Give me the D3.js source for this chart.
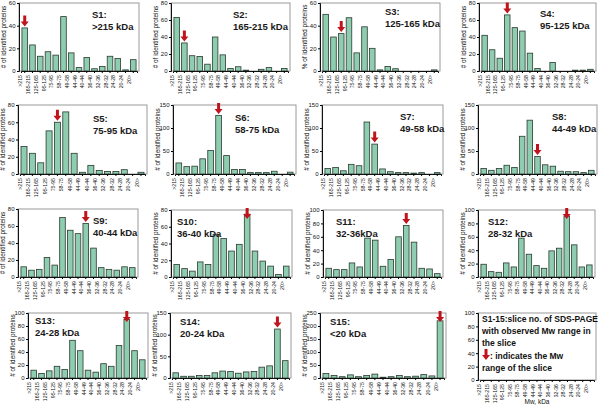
<!DOCTYPE html>
<html><head><meta charset="utf-8">
<script src="https://cdn.jsdelivr.net/npm/d3@7"></script>
<style>body{margin:0;background:#fff;} svg{display:block;font-family:"Liberation Sans",Arial,sans-serif;}</style>
</head><body>
<svg id="c" width="600" height="408"></svg>
<script>
const categories = [">215","165-215","125-165","95-125","75-95","58-75","49-58","44-49","40-44","36-40","32-36","28-32","24-28","20-24","20>"];
const s1  = [38,23,13,17,14,48,16,3,12,2,4,13,11,1,10];
const s2  = [63,33,18,17,8,40,19,3,5,1,0,2,4,0,3];
const s3  = [50,30,33,47,16,39,20,1,4,2,0,0,0,0,1];
const s4  = [42,25,15,66,51,47,21,3,0,10,0,0,1,1,2];
const s5  = [32,24,13,50,60,72,24,2,10,4,3,3,5,0,2];
const s6  = [24,16,17,33,51,127,40,10,10,3,3,3,6,0,4];
const s7  = [12,14,7,21,18,113,65,11,5,3,3,2,3,0,3];
const s8  = [12,8,12,19,14,82,117,38,20,17,6,5,5,3,8];
const s9  = [12,8,9,23,14,70,55,51,63,34,11,9,8,12,11];
const s10 = [15,10,7,18,15,51,46,31,39,75,31,19,13,3,13];
const s11 = [13,11,11,21,15,58,55,16,26,60,77,52,13,12,5];
const s12 = [19,8,7,21,15,58,34,17,13,39,43,91,48,15,18];
const s13 = [12,7,11,18,13,58,42,12,9,22,18,50,90,42,28];
const s14 = [12,4,4,6,6,12,16,15,11,14,15,25,28,113,40];
const s15 = [17,10,5,12,5,10,15,3,5,10,5,7,13,8,220];
const sliceNames = ["S1:","S2:","S3:","S4:","S5:","S6:","S7:","S8:","S9:","S10:","S11:","S12:","S13:","S14:","S15:"];
const sliceRanges = [">215 kDa","165-215 kDa","125-165 kDa","95-125 kDa","75-95 kDa","58-75 kDa","49-58 kDa","44-49 kDa","40-44 kDa","36-40 kDa","32-36kDa","28-32 kDa","24-28 kDa","20-24 kDa","<20 kDa"];
const arrowIndex = [0,1,2,3,4,5,6,7,8,9,10,11,12,13,14];
const yMax = [60,80,60,80,80,150,150,150,80,80,100,100,100,150,250];
const yStep = [20,20,20,20,20,50,50,50,20,20,20,20,20,50,50];
const yTitles = ["# of identified proteins","# of identified proteins","% of identified proteins"];
const legendLines = ["S1-15:slice no. of SDS-PAGE","with observed Mw range in","the slice"];
const legendArrowLines = [" : indicates the Mw","range of the slice"];
const xTitle = "Mw, kDa";

const series = [s1,s2,s3,s4,s5,s6,s7,s8,s9,s10,s11,s12,s13,s14,s15];

// layout: plot rectangles [left, top, right, bottom]
const rects = [
 [19,3,139,71],[171,3,290,71],[320,3,440,71],[479,3,596,71],
 [18,105,147,174],[173,105,296,174],[322,105,443,174],[478,105,597,174],
 [18,209,138,277],[171,210,292,277],[323,210,443,277],[478,210,595,277],
 [28,313,148,378],[170,313,291,378],[320,313,446,378],[478,313,596,380]
];
const labelPos = [
 [92,18],[233,18],[385,15],[540,17],
 [93,122],[235,121],[400,120],[552,120],
 [93,224],[177,225],[336,225],[488,225],
 [35,324],[180,325],[330,325]
];

const svg = d3.select("#c");
const FILL = "#8fcdb0", STROKE = "#2a3a30", RED = "#c0141c";

function drawArrow(g, x, yTip){
  g.append("path")
   .attr("d", `M${x-1.5},${yTip-11} L${x+1.5},${yTip-11} L${x+1.5},${yTip-5} L${x+4},${yTip-5} L${x},${yTip} L${x-4},${yTip-5} L${x-1.5},${yTip-5} Z`)
   .attr("fill", RED);
}

rects.forEach((r, i) => {
  const [L,T,R,B] = r;
  const g = svg.append("g");
  const isLegend = i === 15;
  const max = isLegend ? 100 : yMax[i];
  const step = isLegend ? 20 : yStep[i];
  const x = d3.scaleBand().domain(categories).range([L+2, R-2]).paddingInner(0.28).paddingOuter(0.12);
  const y = d3.scaleLinear().domain([0, max]).range([B, T]);

  // frame
  g.append("rect").attr("x",L).attr("y",T).attr("width",R-L).attr("height",B-T)
    .attr("fill","none").attr("stroke","#9a9a9a").attr("stroke-width",1);

  if(!isLegend){
    const data = series[i];
    g.selectAll("rect.bar").data(data).join("rect").attr("class","bar")
      .attr("x",(d,j)=>x(categories[j])).attr("width",x.bandwidth())
      .attr("y",d=>y(d)).attr("height",d=>B-y(d))
      .attr("fill",FILL).attr("stroke",STROKE).attr("stroke-width",0.8);
    const ai = arrowIndex[i];
    const ax = x(categories[ai]) + x.bandwidth()/2;
    let tip = y(data[ai]) - 1.5;
    if (tip - 11 < T - 2) tip = T + 9;
    drawArrow(g, ax, tip);
    const [lx, ly] = labelPos[i];
    g.append("text").attr("x",lx).attr("y",ly).attr("font-size",9.5).attr("font-weight","bold").attr("fill","#1a1a1a").text(sliceNames[i]);
    g.append("text").attr("x",lx).attr("y",ly+12).attr("font-size",9.5).attr("font-weight","bold").attr("fill","#1a1a1a").text(sliceRanges[i]);
    g.append("text")
      .attr("transform",`translate(${L-13},${(T+B)/2}) rotate(-90)`)
      .attr("text-anchor","middle").attr("font-size",6.4).attr("fill","#111")
      .text(i===2 ? yTitles[2] : yTitles[0]);
  }

  const ya = g.append("g").attr("transform",`translate(${L},0)`)
    .call(d3.axisLeft(y).tickValues(d3.range(0, max+0.001, step)).tickSize(2).tickPadding(1.5));
  ya.selectAll("text").attr("font-size",6).attr("fill","#111").attr("font-family","Liberation Sans, Arial, sans-serif");
  ya.select(".domain").attr("stroke","#111");

  const xa = g.append("g").attr("transform",`translate(0,${B})`)
    .call(d3.axisBottom(x).tickSize(2).tickPadding(1.5));
  xa.select(".domain").attr("stroke","#111");
  xa.selectAll("text").attr("font-size",5.2).attr("fill","#111")
    .attr("font-family","Liberation Sans, Arial, sans-serif")
    .attr("transform","rotate(-90)").attr("text-anchor","end")
    .attr("dx","-0.4em").attr("dy","-0.45em").attr("y",0).attr("x",-2);

  if(isLegend){
    legendLines.forEach((t,k)=>{
      g.append("text").attr("x",482).attr("y",322+k*12).attr("font-size",8.5).attr("font-weight","bold").attr("fill","#111").text(t);
    });
    drawArrow(g, 486, 360);
    legendArrowLines.forEach((t,k)=>{
      g.append("text").attr("x",k===0?490:482).attr("y",359+k*12).attr("font-size",8.5).attr("font-weight","bold").attr("fill","#111").text(t);
    });
    g.append("text").attr("x",(L+R)/2).attr("y",404).attr("text-anchor","middle").attr("font-size",6.5).attr("fill","#111").text(xTitle);
  }
});
</script>
</body></html>
